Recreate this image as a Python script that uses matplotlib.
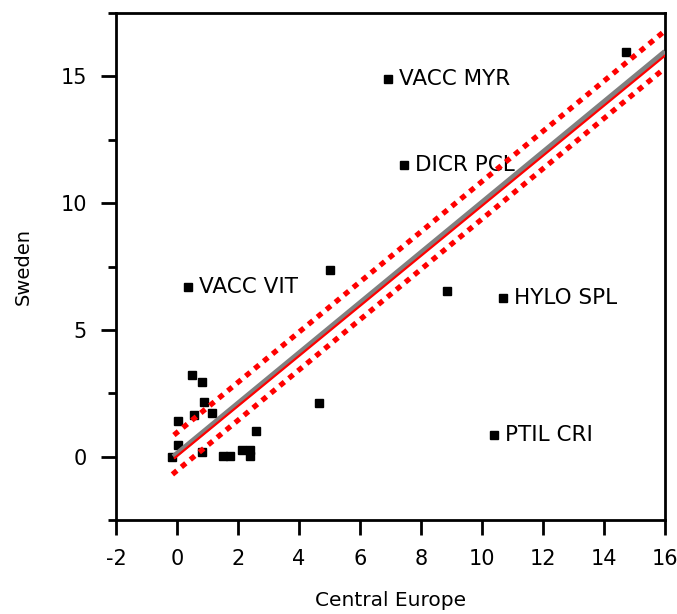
import numpy as np
import matplotlib
matplotlib.use('Agg')
import matplotlib.pyplot as plt

plt.rcParams['axes.unicode_minus'] = False

# Data points (Central Europe vs Sweden)
central_europe = [14.72, 6.92, 7.44, 5.02, 0.36, 8.85, 10.69, 10.39, 4.66,
                  0.48, 0.83, 0.90, 0.57, 1.16, 0.04, 2.58, 0.04, -0.15,
                  0.82, 1.52, 1.75, 2.12, 2.39, 2.39]
sweden = [15.97, 14.88, 11.51, 7.35, 6.70, 6.55, 6.25, 0.85, 2.10,
          3.22, 2.95, 2.14, 1.64, 1.71, 1.40, 1.01, 0.46, 0.0,
          0.18, 0.04, 0.04, 0.26, 0.04, 0.26]

# Labelled species
labels = ['VACC MYR', 'DICR PCL', 'VACC VIT', 'HYLO SPL', 'PTIL CRI']
label_x = [6.92, 7.44, 0.36, 10.69, 10.39]
label_y = [14.88, 11.51, 6.70, 6.25, 0.85]

# Fit line, reduced line and confidence band end points
fit_x = [-0.12, 16.0]
fit_y = [0.0, 15.98]
red_x = [-0.07, 16.0]
red_y = [-0.05, 15.82]
upper_x = [-0.1, 16.0]
upper_y = [0.85, 16.8]
lower_x = [-0.15, 16.0]
lower_y = [-0.7, 15.33]

fig = plt.figure(figsize=(6.77, 6.14), dpi=100)
ax = fig.add_axes([0.1713, 0.1531, 0.8110, 0.8257])

ax.plot(central_europe, sweden, 's', color='black', markersize=6, zorder=2)

for name, x, y in zip(labels, label_x, label_y):
    ax.annotate(name, (x, y), xytext=(8, 0), textcoords='offset points',
                va='center', ha='left', fontsize=15.5, zorder=1)

ax.plot(fit_x, fit_y, color='#808080', lw=3.8, solid_capstyle='butt', zorder=3)
ax.plot(red_x, red_y, color='red', lw=1.6, zorder=4)
ax.plot(upper_x, upper_y, color='red', lw=3.8, linestyle=(0, (1.1, 1.1)), zorder=5)
ax.plot(lower_x, lower_y, color='red', lw=3.8, linestyle=(0, (1.1, 1.1)), zorder=5)

ax.set_xlim(-2, 16)
ax.set_ylim(-2.5, 17.5)
ax.set_xticks(np.arange(-2, 17, 2))
ax.set_yticks([0, 5, 10, 15])
ax.set_yticks(np.arange(-2.5, 17.6, 2.5), minor=True)

for s in ax.spines.values():
    s.set_linewidth(2)
ax.tick_params(axis='both', which='major', direction='out', length=11, width=2,
               labelsize=15, pad=10)
ax.tick_params(axis='y', which='minor', direction='out', length=6, width=2)

ax.set_xlabel('Central Europe', fontsize=14.5, labelpad=16)
ax.set_ylabel('Sweden', fontsize=14, labelpad=20)

fig.savefig('out.png', dpi=100)
